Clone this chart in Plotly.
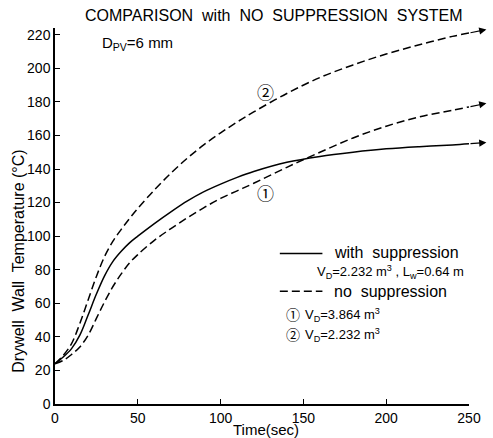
import plotly.graph_objects as go

# Time axis (s) and drywell wall temperature (deg C)
time_s = [0, 5, 10, 15, 20, 25, 30, 35, 40, 45, 50, 60, 70, 80, 90, 100, 110, 120,
          140, 160, 180, 200, 220, 240, 250]

# with suppression: V_D = 2.232 m3, L_w = 0.64 m
temp_with_supp = [24, 28, 33, 41, 53, 65.5, 76.5, 85, 91, 96, 100, 107.5, 114.5, 121,
                  126.5, 131, 135, 138.5, 144, 147.5, 150, 152, 153.3, 154.3, 155]

# no suppression, case 1: V_D = 3.864 m3
temp_no_supp_1 = [24, 26, 29.5, 34, 41, 51, 61, 70, 77.5, 84, 89, 97.5, 104.5, 111,
                  117, 122.5, 127, 131.5, 141, 150, 158.5, 165.5, 171, 175, 177]

# no suppression, case 2: V_D = 2.232 m3
temp_no_supp_2 = [24, 29, 36, 48, 62, 76, 88, 97, 104, 110.5, 116.5, 127.5, 137.5, 146.5,
                  154.5, 161.5, 168, 174, 185, 194.5, 202, 208.5, 214, 219, 221]

x_ticks = [0, 50, 100, 150, 200, 250]
y_ticks = [0, 20, 40, 60, 80, 100, 120, 140, 160, 180, 200, 220]

FONT = "Liberation Sans, Arial, sans-serif"
CIRCLE_FONT = "Noto Sans CJK JP, DejaVu Sans, sans-serif"
DASH = "8px,4px"

fig = go.Figure()

series = [
    (temp_no_supp_2, DASH),
    (temp_no_supp_1, DASH),
    (temp_with_supp, "solid"),
]
for ys, dash in series:
    fig.add_trace(go.Scatter(
        x=time_s, y=ys, mode="lines",
        line=dict(color="black", width=1.5, dash=dash, shape="spline", smoothing=1.0),
        hoverinfo="skip",
    ))

# arrows continuing each curve past the end of the time axis
for ys, _ in series:
    slope = (ys[-1] - ys[-2]) / (time_s[-1] - time_s[-2])
    tip_x = time_s[-1] + 10.5
    fig.add_annotation(
        x=tip_x, y=ys[-1] + slope * 10.5, xref="x", yref="y",
        ax=time_s[-1], ay=ys[-1], axref="x", ayref="y",
        showarrow=True, arrowhead=2, arrowsize=1.2, arrowwidth=1.2,
        arrowcolor="black", text="",
    )

# curve labels
fig.add_annotation(x=127, y=186, xref="x", yref="y", text="②", showarrow=False,
                   font=dict(size=17, family=CIRCLE_FONT))
fig.add_annotation(x=127, y=126, xref="x", yref="y", text="①", showarrow=False,
                   font=dict(size=17, family=CIRCLE_FONT))

def px_x(px):
    return (px - 55) / 418

def px_y(py):
    return (405 - py) / 377

# title and parameter text
fig.add_annotation(x=px_x(276), y=px_y(15), xref="paper", yref="paper",
                   text="COMPARISON  with  NO  SUPPRESSION  SYSTEM", showarrow=False,
                   font=dict(size=16, family=FONT), xanchor="center", yanchor="middle")
fig.add_annotation(x=px_x(100), y=px_y(44), xref="paper", yref="paper",
                   text="D<sub>PV</sub>=6 mm", showarrow=False,
                   font=dict(size=15, family=FONT), xanchor="left", yanchor="middle")

# legend block
fig.add_shape(type="line", xref="paper", yref="paper",
              x0=px_x(282), x1=px_x(325), y0=px_y(254), y1=px_y(254),
              line=dict(color="black", width=1.5))
fig.add_shape(type="line", xref="paper", yref="paper",
              x0=px_x(282), x1=px_x(325), y0=px_y(292), y1=px_y(292),
              line=dict(color="black", width=1.5, dash=DASH))
legend_texts = [
    (335, 253, "with  suppression", 16),
    (318, 273, "V<sub>D</sub>=2.232 m<sup>3</sup> , L<sub>w</sub>=0.64 m", 13),
    (335, 292, "no  suppression", 16),
    (305, 316, "V<sub>D</sub>=3.864 m<sup>3</sup>", 13),
    (305, 336, "V<sub>D</sub>=2.232 m<sup>3</sup>", 13),
]
for px, py, txt, size in legend_texts:
    fig.add_annotation(x=px_x(px), y=px_y(py), xref="paper", yref="paper", text=txt,
                       showarrow=False, font=dict(size=size, family=FONT),
                       xanchor="left", yanchor="middle")
for py, mark in [(315, "①"), (335, "②")]:
    fig.add_annotation(x=px_x(295), y=px_y(py), xref="paper", yref="paper", text=mark,
                       showarrow=False, font=dict(size=14, family=CIRCLE_FONT),
                       xanchor="center", yanchor="middle")

# axis titles
fig.add_annotation(x=px_x(18), y=px_y(262), xref="paper", yref="paper",
                   text="Drywell  Wall  Temperature (°C)", textangle=-90, showarrow=False,
                   font=dict(size=16, family=FONT), xanchor="center", yanchor="middle")
fig.add_annotation(x=px_x(268), y=px_y(431), xref="paper", yref="paper",
                   text="Time(sec)", showarrow=False,
                   font=dict(size=15, family=FONT), xanchor="center", yanchor="middle")

axis_common = dict(showline=True, linecolor="black", linewidth=1.5, ticks="inside",
                   ticklen=5, tickwidth=1.2, tickcolor="black", showgrid=False,
                   zeroline=False, tickfont=dict(size=14, family=FONT, color="black"))
fig.update_xaxes(range=[0, 250], tickvals=x_ticks, **axis_common)
fig.update_yaxes(range=[0, 224], tickvals=y_ticks, **axis_common)

fig.update_layout(
    width=493, height=438,
    margin=dict(l=55, r=20, t=28, b=33),
    plot_bgcolor="white", paper_bgcolor="white",
    showlegend=False,
    font=dict(family=FONT, size=15, color="black"),
)

fig.write_html("out.html")
